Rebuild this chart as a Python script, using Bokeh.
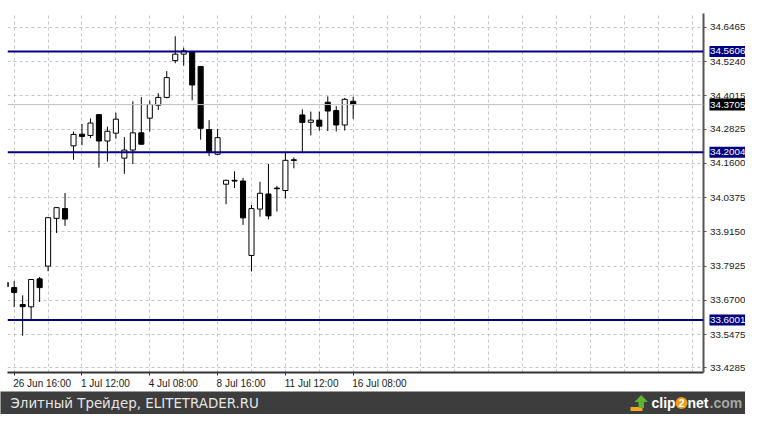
from bokeh.plotting import figure
from bokeh.models import Range1d, FixedTicker, Span, ColumnDataSource
from bokeh.layouts import column, row
from bokeh.core.properties import value
from bokeh.embed import file_html
from bokeh.resources import INLINE

# ---------------- data ----------------
bar_index = list(range(-1, 41))
open_ = [33.7340, 33.7156, 33.6552, 33.6469, 33.7470, 33.7924, 33.9634, 33.9983,
         34.2228, 34.2646, 34.2601, 34.3345, 34.2402, 34.2681, 34.1788, 34.2078,
         34.2695, 34.3219, 34.3683, 34.3962, 34.5278, 34.5509, 34.5592, 34.5069,
         34.2811, 34.1927, 34.0856, 34.0996, 34.0971, 33.8308, 33.9966, 34.0507,
         34.0716, 34.0629, 34.1729, 34.3334, 34.3072, 34.3149, 34.3788, 34.3491,
         34.2975, 34.3823]
high = [33.7366, 33.7390, 33.6877, 33.7446, 33.7540, 33.9659, 34.0036, 34.0542,
        34.2741, 34.3010, 34.3205, 34.3369, 34.2915, 34.3414, 34.2542, 34.3823,
        34.3973, 34.3840, 34.4112, 34.4905, 34.6151, 34.5742, 34.5603, 34.5069,
        34.3149, 34.2835, 34.1013, 34.1320, 34.1083, 34.0112, 34.0943, 34.1578,
        34.0797, 34.1990, 34.1816, 34.3533, 34.3456, 34.3456, 34.3997, 34.3648,
        34.3945, 34.3987]
low = [33.7156, 33.6458, 33.5435, 33.5969, 33.6643, 33.7739, 33.9111, 33.9366,
       34.1729, 34.2252, 34.2507, 34.1449, 34.1669, 34.2486, 34.1229, 34.1578,
       34.2270, 34.2741, 34.3509, 34.3927, 34.5184, 34.5104, 34.3858, 34.2451,
       34.1868, 34.1903, 34.0140, 34.0716, 33.9400, 33.7739, 33.9694, 33.9599,
       33.9879, 34.0343, 34.1425, 34.2008, 34.2601, 34.2776, 34.2758, 34.2741,
       34.2776, 34.3194]
close = [33.7190, 33.6982, 33.6475, 33.7446, 33.7156, 33.9659, 34.0018, 33.9610,
         34.2636, 34.2566, 34.3044, 34.2402, 34.2751, 34.3184, 34.2078, 34.2695,
         34.2287, 34.3708, 34.3962, 34.4671, 34.5509, 34.5627, 34.4406, 34.2856,
         34.1990, 34.2521, 34.0996, 34.0968, 33.9652, 33.9983, 34.0531, 33.9722,
         34.0695, 34.1711, 34.1708, 34.3065, 34.3149, 34.2933, 34.3474, 34.2975,
         34.3893, 34.3705]

y_ticks = [34.6465, 34.5240, 34.4015, 34.2825, 34.1600, 34.0375,
           33.9150, 33.7925, 33.6700, 33.5475, 33.4285]
levels = [34.5606, 34.2004, 33.6001]
last_price = 34.3705
x_label_index = [0, 8, 16, 24, 32, 40]
x_labels = ["26 Jun 16:00", "1 Jul 12:00", "4 Jul 08:00",
            "8 Jul 16:00", "11 Jul 12:00", "16 Jul 08:00"]
x_grid_index = list(range(0, 81, 4))
footer_text = "Элитный Трейдер, ELITETRADER.RU"

# ---------------- layout constants ----------------
FONT = "Liberation Sans"
PX_PER_BAR = 8.475
FRAME_W, FRAME_H = 696, 359
TOP = 13
X0 = -0.79
X1 = X0 + FRAME_W / PX_PER_BAR
Y0, Y1 = 33.4119, 34.6964
SIDE_W = 37
FOOT_H = 23
TOTAL_W = 745

char_w = {" ": 0.278, ":": 0.278, ".": 0.278, "J": 0.5, "u": 0.556, "n": 0.556, "l": 0.222}
def text_w(s, size=10):
    return sum(char_w.get(ch, 0.556) for ch in s) * size

label_pos = [round(i + (text_w(t) / 2 - 1) / PX_PER_BAR, 4) for i, t in zip(x_label_index, x_labels)]

src = ColumnDataSource(dict(
    x=bar_index, o=open_, h=high, l=low, c=close,
    top=[max(o, c) for o, c in zip(open_, close)],
    bottom=[min(o, c) for o, c in zip(open_, close)],
    fill=["white" if c >= o else "black" for o, c in zip(open_, close)],
))

yr = Range1d(Y0, Y1)
p = figure(frame_width=FRAME_W, frame_height=FRAME_H, x_range=Range1d(X0, X1), y_range=yr,
           y_axis_location="right", toolbar_location=None, output_backend="svg",
           min_border_left=7, min_border_right=5, min_border_top=TOP, min_border_bottom=0,
           outline_line_color=None, background_fill_color="white", border_fill_color="white")

# grid
p.xgrid.ticker = FixedTicker(ticks=x_grid_index)
p.ygrid.ticker = FixedTicker(ticks=y_ticks)
p.grid.grid_line_color = "#c4c4c4"
p.grid.grid_line_dash = "3 3"
p.grid.grid_line_width = 1

# right axis: line + short tick marks (labels drawn in side panel)
yax = p.yaxis[0]
yax.ticker = FixedTicker(ticks=[], minor_ticks=y_ticks)
yax.major_tick_out = 0
yax.major_tick_in = 0
yax.minor_tick_out = 3
yax.minor_tick_in = 0
yax.minor_tick_line_color = "#555555"
yax.major_label_standoff = 0
yax.axis_line_color = "#555555"
yax.axis_line_width = 2

# bottom axis: tick marks (minor) at bars, left-aligned labels (major, shifted)
xax = p.xaxis[0]
xax.ticker = FixedTicker(ticks=label_pos, minor_ticks=x_label_index)
xax.major_label_overrides = {pos: t for pos, t in zip(label_pos, x_labels)}
xax.major_tick_line_color = None
xax.major_tick_out = 0
xax.major_tick_in = 0
xax.minor_tick_out = 3
xax.minor_tick_in = 0
xax.minor_tick_line_color = "#333333"
xax.major_label_standoff = 2
xax.major_label_text_font = FONT
xax.major_label_text_font_size = "10px"
xax.major_label_text_color = "#1a1a1a"
xax.axis_line_color = "#333333"
xax.axis_line_width = 2

# candles
p.segment(x0="x", y0="h", x1="x", y1="l", source=src, line_color="black", line_width=1)
p.vbar(x="x", width=0.6, top="top", bottom="bottom", fill_color="fill",
       line_color="black", line_width=1, source=src)

# horizontal levels
p.add_layout(Span(location=last_price, dimension="width", line_color="#c0c0c0", line_width=1))
for lv in levels:
    p.add_layout(Span(location=lv, dimension="width", line_color="#000080", line_width=2))

# ---------------- side panel with price labels ----------------
side = figure(frame_width=SIDE_W, frame_height=FRAME_H, x_range=Range1d(0, SIDE_W), y_range=yr,
              toolbar_location=None, output_backend="svg", x_axis_location=None,
              y_axis_location=None, min_border_left=0, min_border_right=0,
              min_border_top=TOP, min_border_bottom=15, outline_line_color=None,
              background_fill_color="white", border_fill_color="white")
side.grid.visible = False
side.text(x=[1.5] * len(y_ticks), y=y_ticks, text=[f"{t:.4f}" for t in y_ticks],
          text_font=value(FONT), text_font_size="9.8px", text_color="#1a1a1a",
          text_baseline="middle", text_align="left")
side.rect(x=[SIDE_W / 2 + 0.5] * len(levels), y=levels, width=SIDE_W - 1, height=11,
          height_units="screen", fill_color="#000080", line_color=None)
side.rect(x=[SIDE_W / 2 + 0.5], y=[last_price], width=SIDE_W - 1, height=12,
          height_units="screen", fill_color="black", line_color=None)
side.text(x=[1.5] * len(levels), y=levels, text=[f"{lv:.4f}" for lv in levels],
          text_font=value(FONT), text_font_size="9.8px", text_color="white",
          text_baseline="middle", text_align="left")
side.text(x=[1.5], y=[last_price], text=[f"{last_price:.4f}"],
          text_font=value(FONT), text_font_size="9.8px", text_color="white",
          text_baseline="middle", text_align="left")

# ---------------- footer ----------------
f = figure(width=TOTAL_W, height=FOOT_H, x_range=Range1d(0, TOTAL_W), y_range=Range1d(0, FOOT_H),
           toolbar_location=None, output_backend="svg", min_border=0,
           outline_line_color=None, background_fill_color="#3d3d3d", border_fill_color="#3d3d3d")
f.axis.visible = False
f.grid.visible = False
mid = FOOT_H / 2
f.text(x=[10], y=[mid], text=[footer_text], text_font=value("DejaVu Sans"),
       text_font_size="13.4px", text_color="#e6e6e6", text_baseline="middle")
# clip2net logo (decoration)
f.quad(left=[630], right=[642], bottom=[mid - 8], top=[mid - 4], fill_color="#f5a623", line_color=None)
f.quad(left=[638], right=[643.5], bottom=[mid - 5], top=[mid + 1], fill_color="#5cb531", line_color=None)
f.patch(x=[634, 647.5, 640.75], y=[mid + 1, mid + 1, mid + 8], fill_color="#5cb531", line_color=None)
f.text(x=[651], y=[mid], text=["clip"], text_font=value(FONT), text_font_style="bold",
       text_font_size="14px", text_color="white", text_baseline="middle")
f.scatter(x=[681], y=[mid], size=12, fill_color="#f39c12", line_color=None)
f.text(x=[681], y=[mid], text=["2"], text_font=value(FONT), text_font_style="bold",
       text_font_size="11px", text_color="white", text_baseline="middle", text_align="center")
f.text(x=[687], y=[mid], text=["net"], text_font=value(FONT), text_font_style="bold",
       text_font_size="14px", text_color="white", text_baseline="middle")
f.text(x=[709], y=[mid], text=[".com"], text_font=value(FONT), text_font_style="bold",
       text_font_size="14px", text_color="#a5a5a5", text_baseline="middle")

layout = column(row(p, side, spacing=0), f, spacing=0)
open("out.html", "w").write(file_html(layout, INLINE))
